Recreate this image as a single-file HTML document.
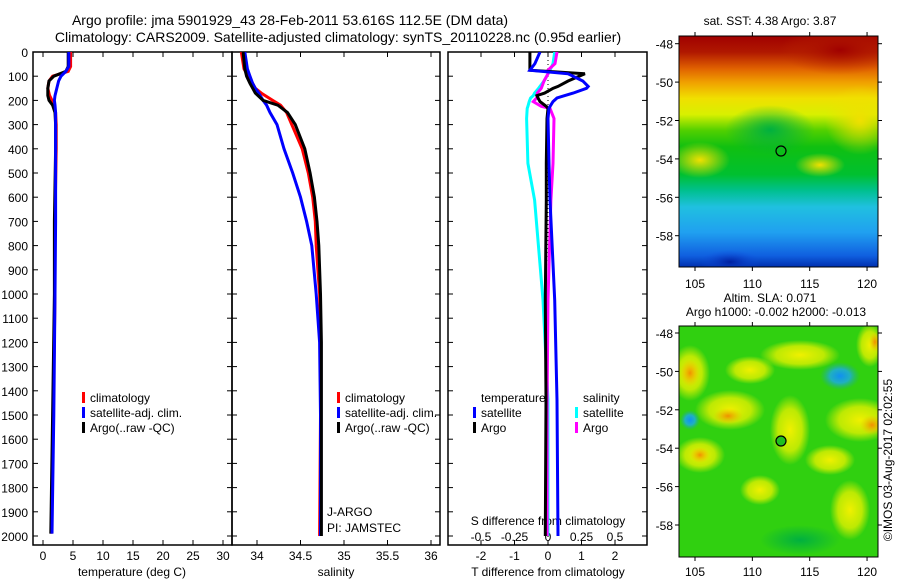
<!DOCTYPE html>
<html><head><meta charset="utf-8"><style>
html,body{margin:0;padding:0;background:#fff;}
svg{display:block;font-family:"Liberation Sans",sans-serif;}
</style></head><body>
<svg id="chart" width="900" height="580" viewBox="0 0 900 580">
<defs>
<clipPath id="c1"><rect x="33" y="52" width="199" height="493"/></clipPath>
<clipPath id="c2"><rect x="232" y="52" width="208" height="493"/></clipPath>
<clipPath id="c3"><rect x="448" y="52" width="199" height="493"/></clipPath>
<clipPath id="m1"><rect x="679" y="36" width="199" height="231"/></clipPath>
<clipPath id="m2"><rect x="679" y="326" width="199" height="231"/></clipPath>
<linearGradient id="sstg" x1="0" y1="0" x2="0" y2="1">
<stop offset="0" stop-color="#a00000"/><stop offset="0.07" stop-color="#b01800"/><stop offset="0.14" stop-color="#e06000"/><stop offset="0.2" stop-color="#f0a000"/><stop offset="0.27" stop-color="#f0e000"/><stop offset="0.34" stop-color="#d8f000"/><stop offset="0.41" stop-color="#50d000"/><stop offset="0.48" stop-color="#10c010"/><stop offset="0.6" stop-color="#00c030"/><stop offset="0.67" stop-color="#00c090"/><stop offset="0.74" stop-color="#20c0e0"/><stop offset="0.85" stop-color="#20a0f0"/><stop offset="0.95" stop-color="#1060e0"/><stop offset="1" stop-color="#0030b0"/>
</linearGradient>
<radialGradient id="yb"><stop offset="0" stop-color="#f0f000"/><stop offset="0.6" stop-color="#e0f000" stop-opacity="0.8"/><stop offset="1" stop-color="#e0f000" stop-opacity="0"/></radialGradient>
<radialGradient id="ob"><stop offset="0" stop-color="#f09000"/><stop offset="1" stop-color="#f0c000" stop-opacity="0"/></radialGradient>
<radialGradient id="bb"><stop offset="0" stop-color="#1090f0"/><stop offset="0.5" stop-color="#20b0c0"/><stop offset="1" stop-color="#20b080" stop-opacity="0"/></radialGradient>
<radialGradient id="gb"><stop offset="0" stop-color="#00b040"/><stop offset="1" stop-color="#00b040" stop-opacity="0"/></radialGradient>
<radialGradient id="rb"><stop offset="0" stop-color="#a00000"/><stop offset="1" stop-color="#c03000" stop-opacity="0"/></radialGradient>
<radialGradient id="yb2"><stop offset="0" stop-color="#f0e000"/><stop offset="1" stop-color="#f0e000" stop-opacity="0"/></radialGradient>
<radialGradient id="db"><stop offset="0" stop-color="#0020a0"/><stop offset="1" stop-color="#1050e0" stop-opacity="0"/></radialGradient>
</defs>
<g id="titles" font-size="14" fill="#000" text-anchor="middle">
<text x="290" y="25">Argo profile: jma 5901929_43 28-Feb-2011 53.616S 112.5E (DM data)</text>
<text x="338" y="42">Climatology: CARS2009. Satellite-adjusted climatology: synTS_20110228.nc (0.95d earlier)</text>
</g>
<g id="frames" fill="none" stroke="#000" stroke-width="1.5">
<rect x="33" y="52" width="199" height="493"/>
<rect x="232" y="52" width="208" height="493"/>
<rect x="448" y="52" width="199" height="493"/>
</g>
<g id="axes" font-size="12" fill="#000"></g>
<g id="series"></g>
<g id="legends" font-size="12" fill="#000">
<rect x="82" y="392" width="3" height="11" fill="#f00"/>
<text x="90" y="402">climatology</text>
<rect x="82" y="407" width="3" height="11" fill="#00f"/>
<text x="90" y="417">satellite-adj. clim.</text>
<rect x="82" y="422" width="3" height="11" fill="#000"/>
<text x="90" y="432">Argo(..raw -QC)</text>
<rect x="337" y="392" width="3" height="11" fill="#f00"/>
<text x="345" y="402">climatology</text>
<rect x="337" y="407" width="3" height="11" fill="#00f"/>
<text x="345" y="417">satellite-adj. clim.</text>
<rect x="337" y="422" width="3" height="11" fill="#000"/>
<text x="345" y="432">Argo(..raw -QC)</text>
<text x="327" y="516">J-ARGO</text>
<text x="327" y="532">PI: JAMSTEC</text>
<rect x="472" y="391" width="50" height="12" fill="#fff"/>
<text x="481" y="402">temperature</text>
<rect x="473" y="407" width="3" height="11" fill="#00f"/>
<text x="481" y="417">satellite</text>
<rect x="473" y="422" width="3" height="11" fill="#000"/>
<text x="481" y="432">Argo</text>
<text x="583" y="402">salinity</text>
<rect x="575" y="407" width="3" height="11" fill="#0ff"/>
<text x="583" y="417">satellite</text>
<rect x="575" y="422" width="3" height="11" fill="#f0f"/>
<text x="583" y="432">Argo</text>
</g>
<g id="maps" font-size="12" fill="#000">
<text x="770" y="25" text-anchor="middle">sat. SST: 4.38 Argo: 3.87</text>
<g clip-path="url(#m1)">
<rect x="679" y="36" width="199" height="231" fill="url(#sstg)"/>
<ellipse cx="840" cy="50" rx="60" ry="25" fill="url(#rb)"/>
<ellipse cx="860" cy="120" rx="35" ry="35" fill="url(#yb2)"/>
<ellipse cx="700" cy="160" rx="30" ry="18" fill="url(#yb2)"/>
<ellipse cx="820" cy="165" rx="25" ry="12" fill="url(#yb2)"/>
<ellipse cx="770" cy="130" rx="45" ry="25" fill="url(#gb)"/>
<ellipse cx="730" cy="262" rx="30" ry="12" fill="url(#db)"/>
</g>
<circle cx="781" cy="151" r="5" fill="none" stroke="#000" stroke-width="1.2"/>
<text x="770" y="302" text-anchor="middle">Altim. SLA: 0.071</text>
<text x="776" y="316" text-anchor="middle">Argo h1000: -0.002 h2000: -0.013</text>
<g clip-path="url(#m2)">
<rect x="679" y="326" width="199" height="231" fill="#30d010"/>
<ellipse cx="690" cy="373" rx="20" ry="28" fill="url(#yb)"/>
<ellipse cx="690" cy="373" rx="10" ry="14" fill="url(#ob)"/>
<ellipse cx="730" cy="410" rx="35" ry="20" fill="url(#yb)"/>
<ellipse cx="728" cy="416" rx="15" ry="8" fill="url(#ob)"/>
<ellipse cx="700" cy="455" rx="25" ry="18" fill="url(#yb)"/>
<ellipse cx="700" cy="455" rx="10" ry="8" fill="url(#ob)"/>
<ellipse cx="860" cy="420" rx="35" ry="22" fill="url(#yb)"/>
<ellipse cx="872" cy="425" rx="12" ry="10" fill="url(#ob)"/>
<ellipse cx="870" cy="345" rx="14" ry="22" fill="url(#yb)"/>
<ellipse cx="875" cy="342" rx="6" ry="10" fill="url(#ob)"/>
<ellipse cx="800" cy="355" rx="40" ry="15" fill="url(#yb)"/>
<ellipse cx="790" cy="430" rx="20" ry="35" fill="url(#yb)"/>
<ellipse cx="830" cy="460" rx="25" ry="15" fill="url(#yb)"/>
<ellipse cx="760" cy="490" rx="20" ry="15" fill="url(#yb)"/>
<ellipse cx="750" cy="370" rx="25" ry="14" fill="url(#yb)"/>
<ellipse cx="850" cy="510" rx="20" ry="30" fill="url(#yb)"/>
<ellipse cx="840" cy="376" rx="20" ry="14" fill="url(#bb)"/>
<ellipse cx="690" cy="420" rx="10" ry="10" fill="url(#bb)"/>
<ellipse cx="800" cy="540" rx="40" ry="15" fill="url(#gb)"/>
</g>
<circle cx="781" cy="441" r="5" fill="#20c020" stroke="#000" stroke-width="1.2"/>
<rect x="679" y="36" width="199" height="231" fill="none" stroke="#000"/>
<rect x="679" y="326" width="199" height="231" fill="none" stroke="#000"/>
<text transform="translate(892,460) rotate(-90)" text-anchor="middle">©IMOS 03-Aug-2017 02:02:55</text>
</g>
</svg>
<script>
// ---- data ----
const depthT = [0,60,80,100,120,150,180,200,220,250,300,400,700,1000,1500,1990];
const argoT  = [4.2,4.2,3.8,1.8,1.0,0.8,0.8,1.0,1.6,2.0,2.1,2.1,1.9,1.9,1.6,1.3];
const climT  = [4.6,4.6,4.2,1.6,1.0,0.8,1.1,1.5,1.8,2.1,2.2,2.2,2.0,2.0,1.7,1.4];
const satT   = [4.3,4.3,3.8,3.0,2.6,2.3,2.0,1.9,2.0,2.1,2.1,2.1,2.1,2.0,1.8,1.5];
const depthS = [0,70,100,130,150,170,200,220,250,300,400,500,600,700,800,1000,1200,1500,2000];
const argoS  = [33.84,33.86,33.88,33.92,33.95,33.98,34.07,34.24,34.35,34.44,34.55,34.61,34.66,34.69,34.71,34.73,34.74,34.74,34.74];
const climS  = [33.82,33.85,33.90,33.95,33.98,34.05,34.18,34.27,34.34,34.40,34.52,34.59,34.64,34.67,34.68,34.72,34.73,34.73,34.72];
const satS   = [33.86,33.89,33.92,33.95,33.98,34.02,34.07,34.11,34.15,34.23,34.31,34.41,34.50,34.57,34.63,34.68,34.72,34.73,34.73];
const depthD = [0,48,75,90,120,142,150,170,180,190,205,225,233,275,460,612,1025,1438,2000];
const argoDT = [-0.54,-0.54,-0.54,1.1,0.6,0.3,0.15,-0.1,-0.33,-0.3,-0.24,-0.05,0,-0.03,-0.05,-0.05,-0.08,-0.06,-0.08];
const satDT  = [-0.24,-0.39,-0.54,0.6,1.04,1.2,1.15,0.75,0.5,0.27,0.15,0.06,0.03,0,0.03,0.06,0.2,0.27,0.3];
const satDS  = [0.05,0.037,0.015,0.0,-0.03,-0.06,-0.07,-0.1,-0.11,-0.13,-0.14,-0.15,-0.155,-0.16,-0.15,-0.1,-0.037,0,0.0];
const argoDS = [0.067,0.052,0.0,0.0,-0.03,-0.045,-0.05,-0.08,-0.08,-0.085,-0.11,-0.05,0.015,0.045,0.037,0.022,0.0,-0.007,-0.007];
const depthTicks = [0,100,200,300,400,500,600,700,800,900,1000,1100,1200,1300,1400,1500,1600,1700,1800,1900,2000];
const tTicks = [0,5,10,15,20,25,30];
const sTicks = [34,34.5,35,35.5,36];
const sTickLabels = ["34","34.5","35","35.5","36"];
const dtTicks = [-2,-1,0,1,2];
const dsTicks = [-0.5,-0.25,0,0.25,0.5];
const dsTickLabels = ["-0.5","-0.25","0","0.25","0.5"];
const lonTicks = [105,110,115,120];
const latTicks = [-48,-50,-52,-54,-56,-58];

// ---- scales ----
const yD = d => 52 + d*0.242;
const xT = t => 43 + 6*t;
const xS = s => 257 + 87*(s-34);
const xDT = t => 548 + 33.5*t;
const xDS = s => 548 + 134*s;
const xLon = l => 695 + 11.47*(l-105);
const yLatTop = l => 43.7 + 19.2*(-48-l);
const yLatBot = l => 333 + 19.2*(-48-l);

const NS = "http://www.w3.org/2000/svg";
const axes = document.getElementById('axes');
const series = document.getElementById('series');
function mk(tag, parent){const e=document.createElementNS(NS,tag);parent.appendChild(e);return e;}
function line(p,x1,y1,x2,y2){const l=mk('line',p);l.setAttribute('x1',x1);l.setAttribute('y1',y1);l.setAttribute('x2',x2);l.setAttribute('y2',y2);l.setAttribute('stroke','#000');return l;}
function txt(p,x,y,s,anchor){const t=mk('text',p);t.setAttribute('x',x);t.setAttribute('y',y);t.setAttribute('text-anchor',anchor||'middle');t.textContent=s;return t;}

depthTicks.forEach(d=>{
  const t = txt(axes,28,yD(d)+5,String(d),'end');
  
  
  [33,232,448].forEach(x0=>{line(axes,x0,yD(d),x0+5,yD(d));});
  [232,440,647].forEach(x0=>{line(axes,x0-5,yD(d),x0,yD(d));});
});
tTicks.forEach((v)=>{
  const t = txt(axes,xT(v),560,String(v));
  
  
  line(axes,xT(v),545,xT(v),540);
  line(axes,xT(v),52,xT(v),57);
});
const t1 = txt(axes,132,576,'temperature (deg C)');


sTicks.forEach((v,i)=>{
  const t = txt(axes,xS(v),560,sTickLabels[i]);
  
  
  line(axes,xS(v),545,xS(v),540);
  line(axes,xS(v),52,xS(v),57);
});
const t2 = txt(axes,336,576,'salinity');


dtTicks.forEach(v=>{
  const t = txt(axes,xDT(v),560,String(v));
  
  
  line(axes,xDT(v),545,xDT(v),540);
  line(axes,xDT(v),52,xDT(v),57);
});
dsTicks.forEach((v,i)=>{
  const t = txt(axes,xDS(v),541,dsTickLabels[i]);
  
  
});
const t3 = txt(axes,548,525,'S difference from climatology');


const t4 = txt(axes,548,576,'T difference from climatology');


const zl = line(axes,xDT(0),52,xDT(0),545);
zl.setAttribute('stroke-dasharray','1,3');



lonTicks.forEach(v=>{
  const a = txt(axes,xLon(v),288,String(v));
  
  
  const b = txt(axes,xLon(v),576,String(v));
  
  
  [36,326].forEach(y0=>{line(axes,xLon(v),y0-4,xLon(v),y0);});
  [267,557].forEach(y0=>{line(axes,xLon(v),y0,xLon(v),y0+4);});
});
latTicks.forEach(v=>{
  const a = txt(axes,673,yLatTop(v)+5,String(v),'end');
  
  
  const b = txt(axes,673,yLatBot(v)+5,String(v),'end');
  
  
  [yLatTop(v),yLatBot(v)].forEach(y=>{line(axes,675,y,679,y);line(axes,878,y,882,y);});
});

function draw(depths, vals, xf, color, clip, name){
  const p = mk('polyline',series);
  p.setAttribute('points', depths.map((d,i)=>xf(vals[i]).toFixed(1)+','+yD(d).toFixed(1)).join(' '));
  p.setAttribute('fill','none');
  p.setAttribute('stroke',color);
  p.setAttribute('stroke-width','3');
  p.setAttribute('clip-path','url(#'+clip+')');
  
  
}
draw(depthT, climT, xT, '#f00', 'c1', 'temperature-climatology-line');
draw(depthT, argoT, xT, '#000', 'c1', 'temperature-argo-line');
draw(depthT, satT, xT, '#00f', 'c1', 'temperature-satellite-line');
draw(depthS, climS, xS, '#f00', 'c2', 'salinity-climatology-line');
draw(depthS, satS, xS, '#00f', 'c2', 'salinity-satellite-line');
draw(depthS, argoS, xS, '#000', 'c2', 'salinity-argo-line');
draw(depthD, satDS, xDS, '#0ff', 'c3', 's-diff-satellite-line');
draw(depthD, argoDS, xDS, '#f0f', 'c3', 's-diff-argo-line');
draw(depthD, argoDT, xDT, '#000', 'c3', 't-diff-argo-line');
draw(depthD, satDT, xDT, '#00f', 'c3', 't-diff-satellite-line');
</script>
</body></html>
